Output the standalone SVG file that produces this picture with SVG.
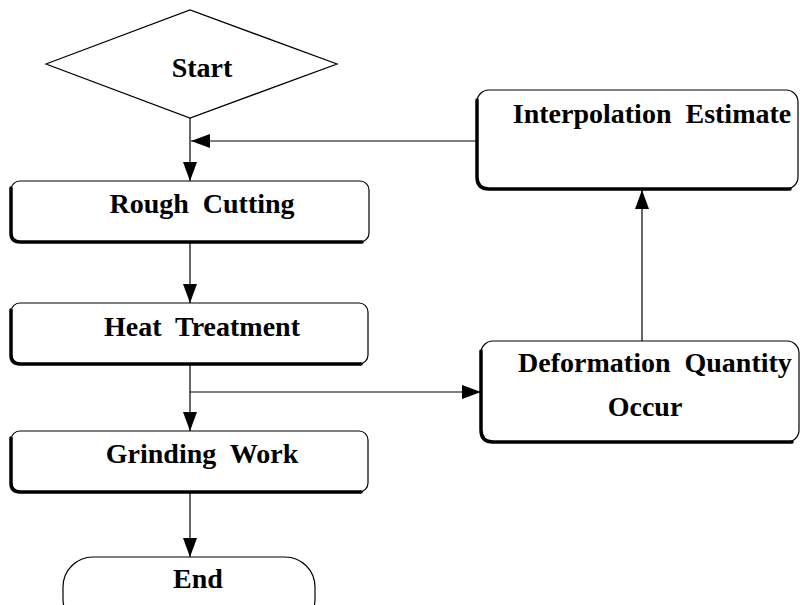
<svg xmlns="http://www.w3.org/2000/svg" width="800" height="605" viewBox="0 0 800 605">
<style>
.sh{fill:#fff;stroke:#000;stroke-width:1.2}
.thick{fill:none;stroke:#000;stroke-width:3.5;stroke-linecap:round}
.t{font-family:"Liberation Serif","Times New Roman",serif;font-weight:bold;font-size:28px;fill:#000;text-anchor:middle;white-space:pre}
.c{fill:none;stroke:#000;stroke-width:1.2}
</style>
<defs>
<marker id="ah" markerUnits="userSpaceOnUse" markerWidth="20" markerHeight="14" refX="19" refY="7" orient="auto">
<path d="M0,0 L19,7 L0,14 z" fill="#000"/>
</marker>
</defs>
<rect width="800" height="605" fill="#fff"/>
<g id="connectors">
<line class="c" x1="190" y1="118" x2="190" y2="181" marker-end="url(#ah)"/>
<line class="c" x1="477" y1="141" x2="191" y2="141" marker-end="url(#ah)"/>
<line class="c" x1="190" y1="242" x2="190" y2="303" marker-end="url(#ah)"/>
<line class="c" x1="190" y1="364" x2="190" y2="431" marker-end="url(#ah)"/>
<line class="c" x1="190" y1="392" x2="481" y2="392" marker-end="url(#ah)"/>
<line class="c" x1="642" y1="341" x2="642" y2="190" marker-end="url(#ah)"/>
<line class="c" x1="190" y1="492" x2="190" y2="557" marker-end="url(#ah)"/>
</g>
<g id="start">
<polygon class="sh" points="46,64 190,10 337,64 190,118"/>
<text class="t" x="202" y="77">Start</text>
</g>
<g id="rough">
<rect class="sh" x="11" y="181" width="358" height="61" rx="9"/>
<path class="thick" d="M11,188 L11,233 Q11,242 20,242 L362,242"/>
<text class="t" x="202" y="213">Rough  Cutting</text>
</g>
<g id="heat">
<rect class="sh" x="11" y="303" width="357" height="61" rx="9"/>
<path class="thick" d="M11,310 L11,355 Q11,364 20,364 L361,364"/>
<text class="t" x="202" y="336">Heat  Treatment</text>
</g>
<g id="grinding">
<rect class="sh" x="11" y="431" width="357" height="61" rx="9"/>
<path class="thick" d="M11,438 L11,483 Q11,492 20,492 L361,492"/>
<text class="t" x="202" y="463">Grinding  Work</text>
</g>
<g id="end">
<rect class="sh" x="63" y="557" width="252" height="72" rx="30"/>
<text class="t" x="198" y="588">End</text>
</g>
<g id="interp">
<rect class="sh" x="477" y="90" width="321" height="99" rx="12"/>
<path class="thick" d="M477,100 L477,177 Q477,189 489,189 L790,189"/>
<text class="t" x="652" y="123">Interpolation  Estimate</text>
</g>
<g id="deform">
<rect class="sh" x="481" y="341" width="318" height="101" rx="12"/>
<path class="thick" d="M481,351 L481,430 Q481,442 493,442 L792,442"/>
<text class="t" x="655" y="372">Deformation  Quantity</text>
<text class="t" x="645" y="416">Occur</text>
</g>
</svg>
